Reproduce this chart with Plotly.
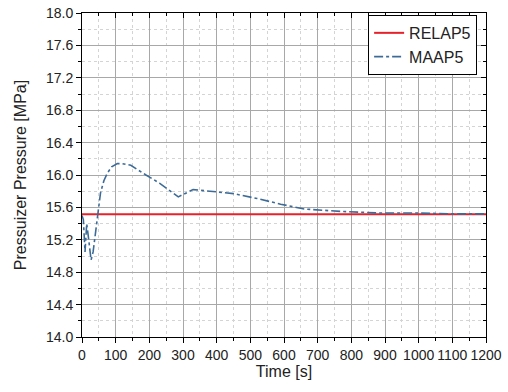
import plotly.graph_objects as go

relap_t = [0, 1200]
relap_p = [15.515, 15.515]

maap_t = [0, 4, 9, 14, 20, 27, 33, 40, 48, 55, 65, 75, 88, 105, 120, 145, 190,
          230, 286, 300, 330, 380, 450, 520, 590, 660, 770, 890, 1000, 1100, 1200]
maap_p = [15.50, 15.45, 15.05, 15.40, 15.20, 14.95, 15.05, 15.30, 15.55, 15.78,
          15.93, 16.02, 16.10, 16.14, 16.14, 16.12, 16.00, 15.90, 15.73, 15.76,
          15.82, 15.80, 15.77, 15.71, 15.64, 15.58, 15.55, 15.53, 15.53, 15.52, 15.52]

x_title = "Time [s]"
y_title = "Pressuizer Pressure [MPa]"

fig = go.Figure()
fig.add_trace(go.Scatter(x=relap_t, y=relap_p, mode="lines", name="RELAP5",
                         line=dict(color="#e8202a", width=2)))
fig.add_trace(go.Scatter(x=maap_t, y=maap_p, mode="lines", name="MAAP5",
                         line=dict(color="#3d6b98", width=1.6, dash="dashdot")))

font = dict(family="Liberation Sans", color="#222222")
major_grid = "#a8a8a8"
minor_grid = "#d4d4d4"

fig.update_layout(
    width=508, height=392,
    margin=dict(l=82, r=22, t=13, b=55),
    paper_bgcolor="white", plot_bgcolor="white",
    font=dict(size=14, **font),
    showlegend=True,
    legend=dict(x=0.978, y=0.994, xanchor="right", yanchor="top",
                bgcolor="white", bordercolor="black", borderwidth=1,
                font=dict(size=16, **font), tracegroupgap=0, itemwidth=30),
    xaxis=dict(range=[0, 1200], dtick=100, tick0=0, showgrid=True,
               gridcolor=major_grid, gridwidth=1, automargin=False,
               showline=True, linecolor="black", linewidth=1,
               ticks="outside", ticklen=5, tickcolor="black",
               tickfont=dict(size=14, **font),
               title=dict(text=x_title, font=dict(size=16, **font), standoff=3),
               minor=dict(dtick=50, showgrid=True, gridcolor=minor_grid,
                          griddash="dot", ticks="outside", ticklen=3,
                          tickcolor="black"),
               zeroline=False),
    yaxis=dict(range=[14.0, 18.0], dtick=0.4, tick0=14.0, tickformat=".1f",
               showgrid=True, gridcolor=major_grid, gridwidth=1, automargin=False,
               showline=True, linecolor="black", linewidth=1,
               ticks="outside", ticklen=5, tickcolor="black",
               tickfont=dict(size=14, **font),
               title=dict(text=y_title, font=dict(size=16, **font), standoff=15),
               minor=dict(dtick=0.2, showgrid=True, gridcolor=minor_grid,
                          griddash="dot", ticks="outside", ticklen=3,
                          tickcolor="black"),
               zeroline=False),
    xaxis2=dict(range=[0, 1200], dtick=100, tick0=0, overlaying="x", side="top",
                showgrid=False, showticklabels=False, showline=True, automargin=False,
                linecolor="black", linewidth=1, ticks="inside", ticklen=5,
                tickcolor="black", zeroline=False,
                minor=dict(dtick=50, ticks="inside", ticklen=3, tickcolor="black",
                           showgrid=False)),
    yaxis2=dict(range=[14.0, 18.0], dtick=0.4, tick0=14.0, overlaying="y",
                side="right", showgrid=False, showticklabels=False, automargin=False,
                showline=True, linecolor="black", linewidth=1, ticks="inside",
                ticklen=5, tickcolor="black", zeroline=False,
                minor=dict(dtick=0.2, ticks="inside", ticklen=3,
                           tickcolor="black", showgrid=False)),
)

# invisible helper trace to activate top/right axes
fig.add_trace(go.Scatter(x=[0], y=[14.0], xaxis="x2", yaxis="y2", mode="markers",
                         marker=dict(opacity=0), showlegend=False,
                         hoverinfo="skip"))

fig.write_html("out.html")
